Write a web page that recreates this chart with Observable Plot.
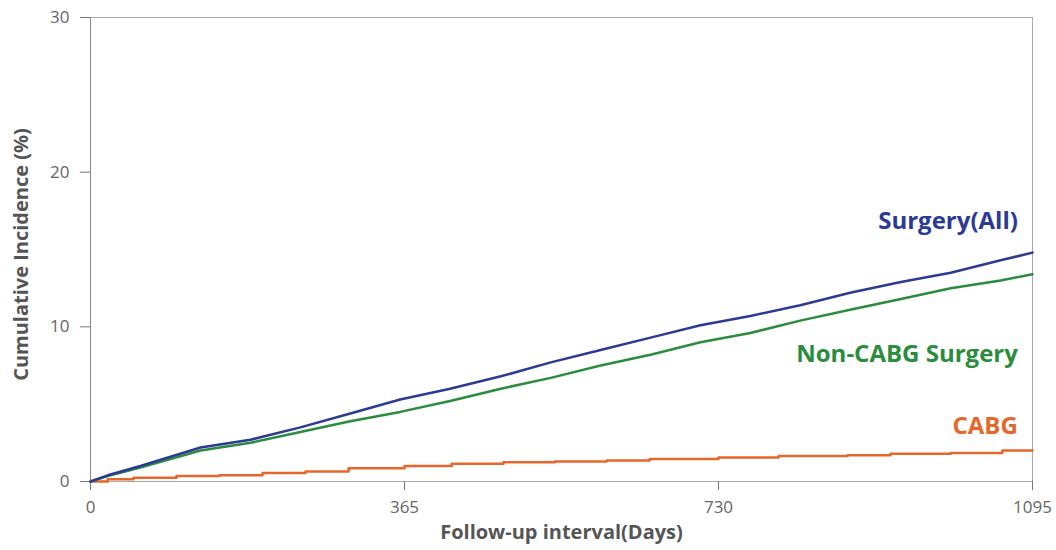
<!DOCTYPE html>
<html>
<head>
<meta charset="utf-8">
<script src="https://cdn.jsdelivr.net/npm/d3@7"></script>
<script src="https://cdn.jsdelivr.net/npm/@observablehq/plot@0.6"></script>
<style>
  html, body { margin: 0; padding: 0; background: #fff; }
  #chart { width: 1056px; height: 550px; }
</style>
</head>
<body>
<div id="chart"></div>
<script>
// Follow-up days at which values were read
const daysAll = [0, 20, 58, 128, 186, 244, 302, 360, 418, 477, 535, 593, 651, 709, 767, 825, 883, 942, 1000, 1058, 1095];
const surgeryAll = [0, 0.4, 1.0, 2.2, 2.7, 3.5, 4.4, 5.3, 6.0, 6.8, 7.7, 8.5, 9.3, 10.1, 10.7, 11.4, 12.2, 12.9, 13.5, 14.3, 14.8];
const nonCabg    = [0, 0.35, 0.9, 2.0, 2.5, 3.2, 3.9, 4.5, 5.2, 6.0, 6.7, 7.5, 8.2, 9.0, 9.6, 10.4, 11.1, 11.8, 12.5, 13.0, 13.4];
const daysCabg = [0, 20, 50, 100, 150, 200, 250, 300, 365, 420, 480, 540, 600, 650, 730, 800, 880, 930, 1000, 1060, 1095];
const cabg     = [0, 0.15, 0.25, 0.35, 0.4, 0.55, 0.65, 0.85, 1.0, 1.15, 1.25, 1.3, 1.35, 1.45, 1.55, 1.65, 1.7, 1.8, 1.85, 2.0, 2.0];

const xTicks = [0, 365, 730, 1095];
const yTicks = [0, 10, 20, 30];
const xTitle = "Follow-up interval(Days)";
const yTitle = "Cumulative Incidence (%)";

const seriesNames = ["Surgery(All)", "Non-CABG Surgery", "CABG"];
const seriesColors = ["#2b3a94", "#2a8c3c", "#e5682a"];
const labelY = [16.8, 8.2, 3.6];

const rowsAll = daysAll.map((d, i) => ({day: d, v: surgeryAll[i]}));
const rowsNon = daysAll.map((d, i) => ({day: d, v: nonCabg[i]}));
const rowsCabg = daysCabg.map((d, i) => ({day: d, v: cabg[i]}));
const labels = seriesNames.map((n, i) => ({name: n, y: labelY[i], color: seriesColors[i]}));

const chart = Plot.plot({
  width: 1056,
  height: 550,
  marginLeft: 90,
  marginRight: 24,
  marginTop: 17,
  marginBottom: 69,
  style: {fontFamily: "'Open Sans', sans-serif", background: "#fff"},
  x: {domain: [0, 1095], ticks: xTicks},
  y: {domain: [0, 30], ticks: yTicks},
  marks: [
    Plot.frame({stroke: "#aaa", strokeWidth: 1}),
    Plot.axisY(yTicks, {tickSize: 10, tickPadding: 11, fontSize: 17, color: "#666", stroke: "#777",
      tickFormat: d => String(d), label: null}),
    Plot.axisX(xTicks, {tickSize: 9, tickPadding: 10, fontSize: 17, color: "#666", stroke: "#777",
      tickFormat: d => String(d), label: null}),
    Plot.ruleX([0], {stroke: "#888", strokeWidth: 1}),
    Plot.text([yTitle], {frameAnchor: "left", textAnchor: "middle", dx: -69, dy: 5, rotate: -90, fontSize: 20, fontWeight: "bold", fill: "#555"}),
    Plot.text([xTitle], {frameAnchor: "bottom", dy: 57, fontSize: 20, fontWeight: "bold", fill: "#555"}),
    Plot.line(rowsCabg, {x: "day", y: "v", stroke: seriesColors[2], strokeWidth: 2.5, curve: "step-after"}),
    Plot.line(rowsNon, {x: "day", y: "v", stroke: seriesColors[1], strokeWidth: 2.5}),
    Plot.line(rowsAll, {x: "day", y: "v", stroke: seriesColors[0], strokeWidth: 2.5}),
    Plot.text(labels, {x: 1078, y: "y", text: "name", fill: "color", textAnchor: "end", fontSize: 24, fontWeight: "bold"})
  ]
});
document.getElementById("chart").appendChild(chart);
</script>
</body>
</html>
